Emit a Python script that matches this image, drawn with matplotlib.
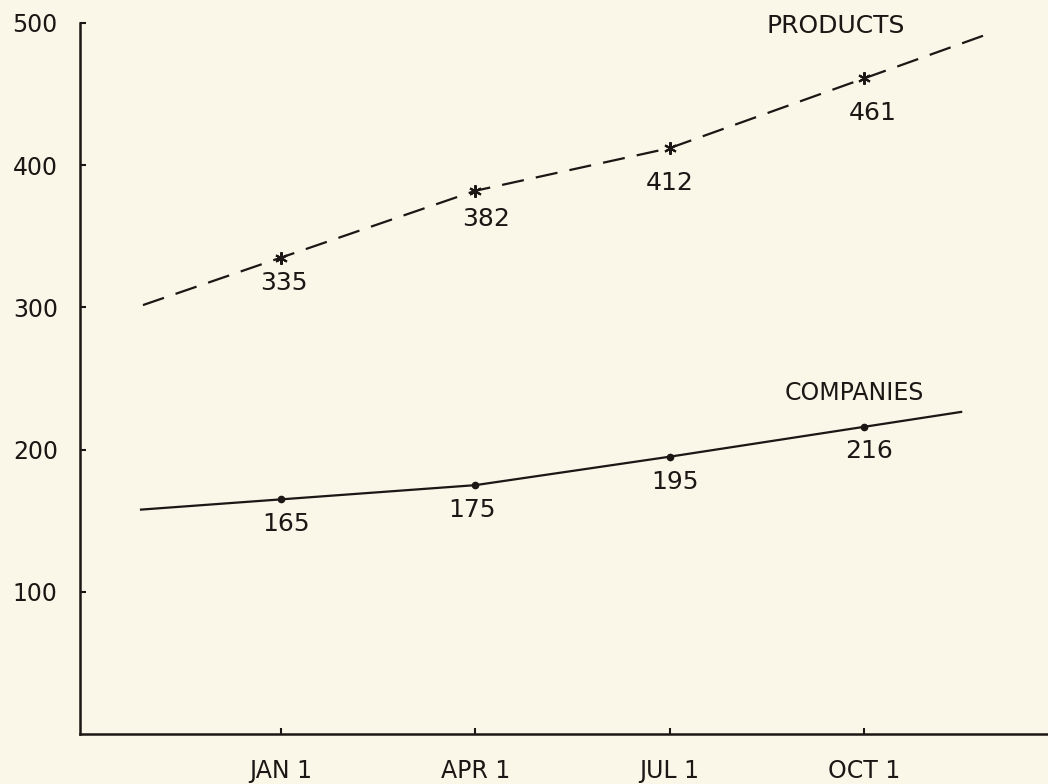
import numpy as np
import matplotlib
matplotlib.use('Agg')
import matplotlib.pyplot as plt

# data
dates = ['JAN 1', 'APR 1', 'JUL 1', 'OCT 1']
products = [335, 382, 412, 461]
companies = [165, 175, 195, 216]
yticks = [100, 200, 300, 400, 500]

ink = '#1c1614'
paper = '#faf6e8'
plt.rcParams['font.family'] = ['DejaVu Sans']

x = np.arange(len(dates))


def extend(vals, left, right):
    # carry the first / last segment a bit past the end points, like the drawing
    v = list(vals)
    xs = [-left] + list(x) + [x[-1] + right]
    ys = [v[0] - left * (v[1] - v[0])] + v + [v[-1] + right * (v[-1] - v[-2])]
    return xs, ys


fig = plt.figure(figsize=(10.48, 7.84), dpi=100, facecolor=paper)
ax = fig.add_axes([80 / 1048, 50 / 784, 968 / 1048, 711 / 784])
ax.set_facecolor(paper)

px, py = extend(products, 0.71, 0.62)
ax.plot(px, py, color=ink, lw=1.6, dashes=(10, 5.5))
ax.plot(x, products, ls='none', marker=(6, 2, 0), ms=9, mew=1.5, color=ink)

cx, cy = extend(companies, 0.72, 0.5)
ax.plot(cx, cy, color=ink, lw=1.6)
ax.plot(x, companies, ls='none', marker='o', ms=4.5, color=ink)

# value labels under each point
p_off = [(3, -25), (11, -28), (0, -35), (9, -35)]
c_off = [(5, -25), (-3, -25), (5, -25), (5, -24)]
for i in range(len(dates)):
    ax.annotate(str(products[i]), (x[i], products[i]), xytext=p_off[i],
                textcoords='offset pixels', ha='center', va='center',
                fontsize=18, color=ink)
    ax.annotate(str(companies[i]), (x[i], companies[i]), xytext=c_off[i],
                textcoords='offset pixels', ha='center', va='center',
                fontsize=18, color=ink)

ax.annotate('PRODUCTS', (x[-1], products[-1]), xytext=(-28, 52),
            textcoords='offset pixels', ha='center', va='center',
            fontsize=18, color=ink)
ax.annotate('COMPANIES', (x[-1], companies[-1]), xytext=(-10, 34),
            textcoords='offset pixels', ha='center', va='center',
            fontsize=17, color=ink)

ax.set_xlim(-1.034, 3.947)
ax.set_ylim(0, 500)
ax.set_xticks(x)
ax.set_xticklabels(dates)
ax.set_yticks(yticks)
ax.tick_params(direction='in', length=4, width=1.5, colors=ink,
               labelsize=17)
ax.tick_params(axis='y', pad=16)
ax.tick_params(axis='x', pad=18)

for s in ['top', 'right']:
    ax.spines[s].set_visible(False)
for s in ['left', 'bottom']:
    ax.spines[s].set_color(ink)
    ax.spines[s].set_linewidth(1.8)

plt.savefig('out.png', dpi=100, facecolor=paper)
